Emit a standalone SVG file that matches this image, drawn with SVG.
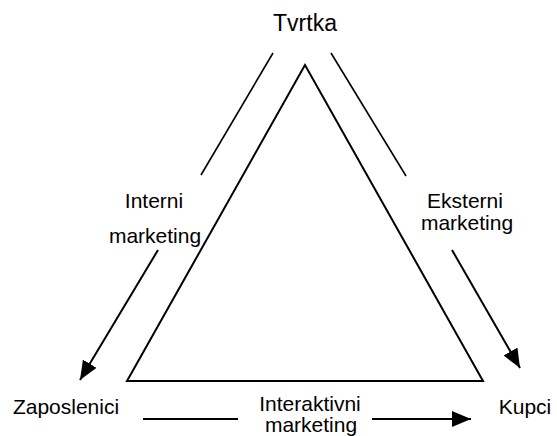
<svg xmlns="http://www.w3.org/2000/svg" width="557" height="436" viewBox="0 0 557 436">
  <style>
    text { font-family: "Liberation Sans", Arial, sans-serif; font-size: 21px; fill: #000; text-anchor: middle; }
    .big { font-size: 23px; }
    .ln { stroke: #000; stroke-width: 2; fill: none; }
    .thin { stroke: #000; stroke-width: 1.6; fill: none; }
  </style>
  <defs>
    <marker id="ah" markerUnits="userSpaceOnUse" markerWidth="20" markerHeight="16" refX="19" refY="8" orient="auto">
      <path d="M0,0 L19,8 L0,16 z" fill="#000"/>
    </marker>
  </defs>
  <rect width="557" height="436" fill="#fff"/>

  <g id="triangle">
    <polygon class="ln" points="305,65 127,381 483,381"/>
  </g>

  <g id="node-tvrtka"><text class="big" x="305" y="31">Tvrtka</text></g>
  <g id="node-zaposlenici"><text x="66" y="414">Zaposlenici</text></g>
  <g id="node-kupci"><text x="525" y="414">Kupci</text></g>

  <g id="connectors">
    <line class="thin" x1="273" y1="53" x2="201" y2="175"/>
    <line class="ln" x1="158" y1="250" x2="80" y2="380" marker-end="url(#ah)"/>
    <line class="thin" x1="331" y1="53" x2="406" y2="176"/>
    <line class="ln" x1="452" y1="250" x2="520" y2="368" marker-end="url(#ah)"/>
    <line class="ln" x1="143" y1="419" x2="238" y2="419"/>
    <line class="ln" x1="372" y1="419" x2="471" y2="419" marker-end="url(#ah)"/>
    <g id="labels">
      <text x="154" y="208">Interni</text>
      <text x="155" y="243">marketing</text>
      <text x="465" y="208">Eksterni</text>
      <text x="467" y="230">marketing</text>
      <text x="310" y="411">Interaktivni</text>
      <text x="311" y="432" font-size="20">marketing</text>
    </g>
  </g>
</svg>
